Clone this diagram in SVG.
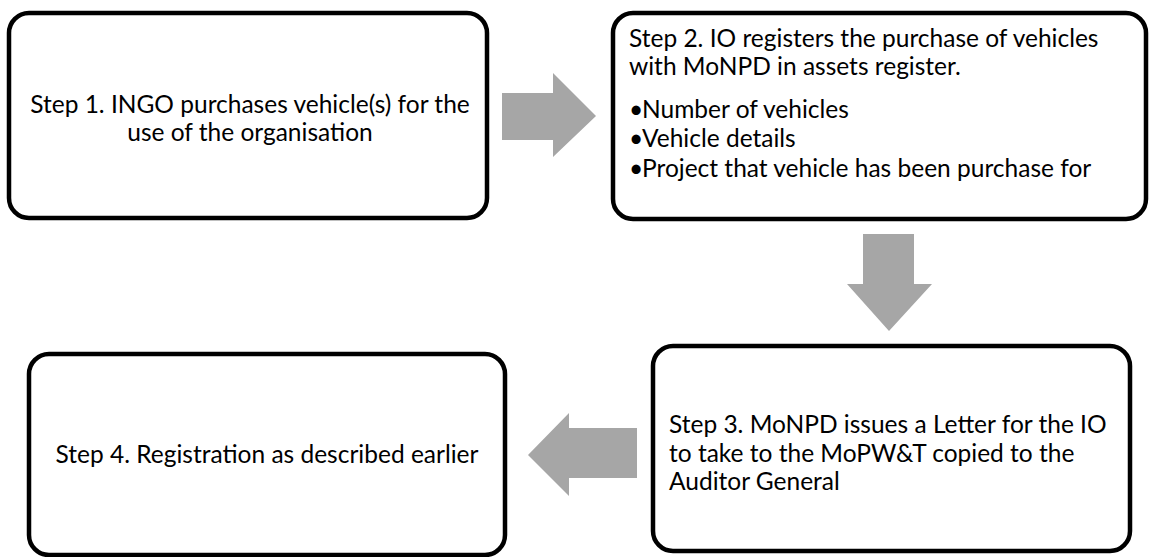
<svg xmlns="http://www.w3.org/2000/svg" width="1152" height="557" viewBox="0 0 1152 557">
<style>
  .box { fill: #ffffff; stroke: #000000; stroke-width: 4.5; }
  .arrow { fill: #a6a6a6; stroke: none; }
  text { font-family: Lato, "Liberation Sans", sans-serif; font-size: 24.5px; fill: #000000; }
  .c { text-anchor: middle; }
</style>
<rect width="1152" height="557" fill="#ffffff"/>
<g id="connectors">
  <polygon class="arrow" points="502,93 553,93 553,73 596,116 553,157 553,140 502,140"/>
  <polygon class="arrow" points="863,234 914,234 914,284 932,284 889,331 847,284 863,284"/>
  <polygon class="arrow" points="637,428 569,428 569,413 528,455 569,496 569,478 637,478"/>
</g>
<g id="step1">
  <rect class="box" x="9" y="13" width="478" height="205" rx="20" ry="20"/>
  <text class="c" x="250" y="113">Step 1. INGO purchases vehicle(s) for the</text>
  <text class="c" x="250" y="141">use of the organisation</text>
</g>
<g id="step2">
  <rect class="box" x="613" y="13" width="533" height="206" rx="20" ry="20"/>
  <text x="629" y="47">Step 2. IO registers the purchase of vehicles</text>
  <text x="629" y="75">with MoNPD in assets register.</text>
  <text x="629" y="118">•<tspan x="642">Number of vehicles</tspan></text>
  <text x="629" y="147">•<tspan x="642">Vehicle details</tspan></text>
  <text x="629" y="177">•<tspan x="642">Project that vehicle has been purchase for</tspan></text>
</g>
<g id="step3">
  <rect class="box" x="653" y="346" width="477" height="205" rx="20" ry="20"/>
  <text x="669" y="433">Step 3. MoNPD issues a Letter for the IO</text>
  <text x="669" y="462">to take to the MoPW&amp;T copied to the</text>
  <text x="669" y="490">Auditor General</text>
</g>
<g id="step4">
  <rect class="box" x="29" y="354" width="476" height="201" rx="20" ry="20"/>
  <text class="c" x="267" y="463">Step 4. Registration as described earlier</text>
</g>
</svg>
